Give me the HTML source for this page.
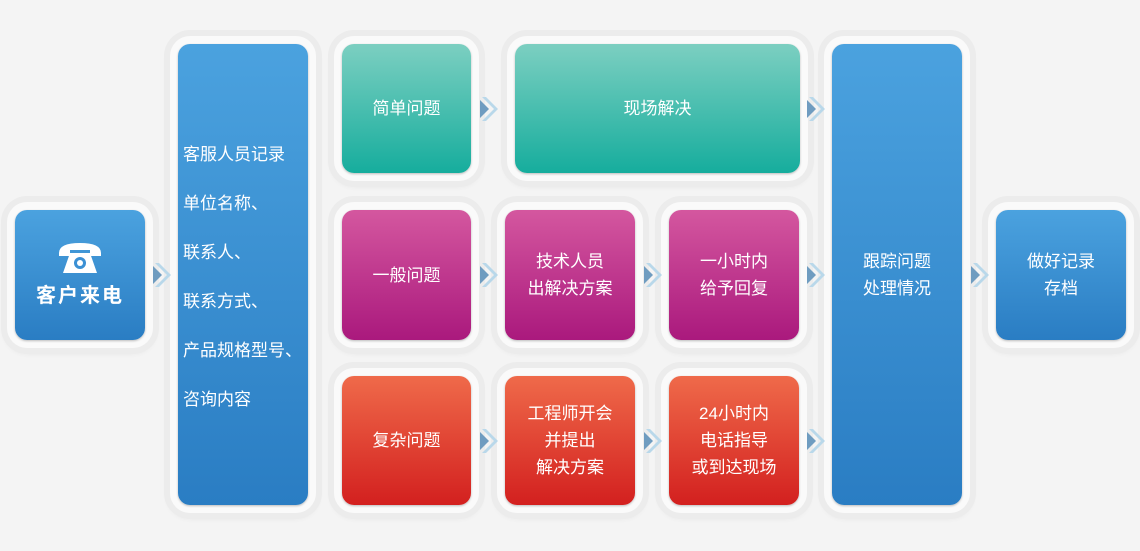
<!DOCTYPE html>
<html><head><meta charset="utf-8"><style>
body{margin:0;width:1140px;height:551px;background:#f4f4f4;position:relative;overflow:hidden;font-family:"Liberation Sans","Noto Sans CJK SC",sans-serif;}
.f{position:absolute;background:#fafafa;border-radius:20px;box-shadow:0 0 0 6px #ececec,0 3px 8px rgba(0,0,0,.12);}
.b{position:absolute;border-radius:12px;color:#fff;font-size:17px;line-height:27px;display:flex;align-items:center;justify-content:center;text-align:center;box-shadow:0 1px 2px rgba(0,0,0,.25);}
.t{background:linear-gradient(#7ccfc1,#16ad9d);}
.m{background:linear-gradient(#d4579f,#aa197d);}
.r{background:linear-gradient(#ef6a4a,#d3201f);}
.u{background:linear-gradient(#4ba2df,#2a7dc3);}
.a{position:absolute;width:22px;height:26px;}
</style></head><body>
<div class="f" style="left:7px;top:202px;width:146px;height:146px"></div>
<div class="f" style="left:170px;top:36px;width:146px;height:477px"></div>
<div class="f" style="left:334px;top:36px;width:145px;height:145px"></div>
<div class="f" style="left:507px;top:36px;width:301px;height:145px"></div>
<div class="f" style="left:334px;top:202px;width:145px;height:146px"></div>
<div class="f" style="left:497px;top:202px;width:146px;height:146px"></div>
<div class="f" style="left:661px;top:202px;width:146px;height:146px"></div>
<div class="f" style="left:334px;top:368px;width:145px;height:145px"></div>
<div class="f" style="left:497px;top:368px;width:146px;height:145px"></div>
<div class="f" style="left:661px;top:368px;width:146px;height:145px"></div>
<div class="f" style="left:824px;top:36px;width:146px;height:477px"></div>
<div class="f" style="left:988px;top:202px;width:146px;height:146px"></div>
<div class="b u" style="left:15px;top:210px;width:130px;height:130px;flex-direction:column">
<svg width="46" height="34" viewBox="0 0 46 34"><path d="M2 12 Q2 2 23 2 Q44 2 44 12 L44 15 L33 15 L33 9 L13 9 L13 15 L2 15Z" fill="#fff"/><path d="M13 12 L33 12 L40 32 L6 32Z" fill="#fff"/><circle cx="23" cy="22" r="6" fill="#3b90d4"/><circle cx="23" cy="22" r="3" fill="#fff"/></svg>
<div style="font-size:20px;font-weight:bold;letter-spacing:2px;margin-top:8px">客户来电</div></div>
<div class="b u" style="left:178px;top:44px;width:130px;height:461px;justify-content:flex-start;text-align:left;padding-left:5px;box-sizing:border-box">
<div style="line-height:49px;margin-top:4px">客服人员记录<br>单位名称、<br>联系人、<br>联系方式、<br>产品规格型号、<br>咨询内容</div></div>
<div class="b t" style="left:342px;top:44px;width:129px;height:129px">简单问题</div>
<div class="b t" style="left:515px;top:44px;width:285px;height:129px">现场解决</div>
<div class="b m" style="left:342px;top:210px;width:129px;height:130px">一般问题</div>
<div class="b m" style="left:505px;top:210px;width:130px;height:130px">技术人员<br>出解决方案</div>
<div class="b m" style="left:669px;top:210px;width:130px;height:130px">一小时内<br>给予回复</div>
<div class="b r" style="left:342px;top:376px;width:129px;height:129px">复杂问题</div>
<div class="b r" style="left:505px;top:376px;width:130px;height:129px">工程师开会<br>并提出<br>解决方案</div>
<div class="b r" style="left:669px;top:376px;width:130px;height:129px">24小时内<br>电话指导<br>或到达现场</div>
<div class="b u" style="left:832px;top:44px;width:130px;height:461px">跟踪问题<br>处理情况</div>
<div class="b u" style="left:996px;top:210px;width:130px;height:130px">做好记录<br>存档</div>
<svg width="0" height="0" style="position:absolute"><defs><symbol id="ar" viewBox="0 0 22 26"><path d="M3 1 L15 13 L3 25 L7 25 L19 13 L7 1Z" fill="#b9d8ea"/><path d="M1 4 L10 13 L1 22Z" fill="#6f9cc0"/></symbol></defs></svg>
<svg class="a" style="left:152px;top:262px"><use href="#ar"/></svg>
<svg class="a" style="left:479px;top:96px"><use href="#ar"/></svg>
<svg class="a" style="left:806px;top:96px"><use href="#ar"/></svg>
<svg class="a" style="left:479px;top:262px"><use href="#ar"/></svg>
<svg class="a" style="left:643px;top:262px"><use href="#ar"/></svg>
<svg class="a" style="left:806px;top:262px"><use href="#ar"/></svg>
<svg class="a" style="left:479px;top:428px"><use href="#ar"/></svg>
<svg class="a" style="left:643px;top:428px"><use href="#ar"/></svg>
<svg class="a" style="left:806px;top:428px"><use href="#ar"/></svg>
<svg class="a" style="left:970px;top:262px"><use href="#ar"/></svg>
</body></html>
